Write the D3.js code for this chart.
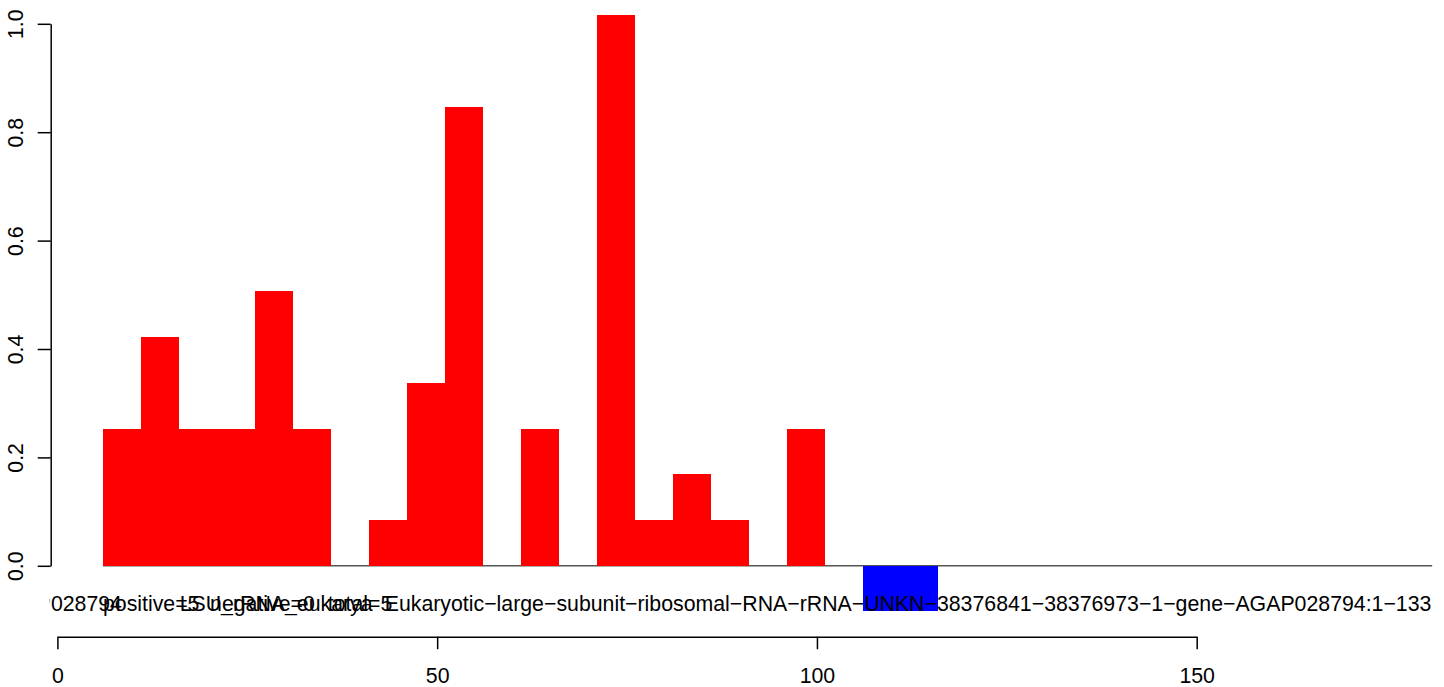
<!DOCTYPE html>
<html>
<head>
<meta charset="utf-8">
<script src="https://cdn.jsdelivr.net/npm/d3@7"></script>
<style>
  html, body { margin: 0; padding: 0; background: #fff; }
  svg text { font-family: "Liberation Sans", Arial, Helvetica, sans-serif; }
</style>
</head>
<body>
<svg id="chart" width="1444" height="687"></svg>
<script>
// ---- data ----
const barStart = [6, 11, 16, 21, 26, 31, 41, 46, 51, 61, 71, 76, 81, 86, 96, 106];
const barEnd   = [11, 16, 21, 26, 31, 36, 46, 51, 56, 66, 76, 81, 86, 91, 101, 116];
const barValue = [0.253, 0.4225, 0.253, 0.253, 0.507, 0.253, 0.084, 0.338, 0.847, 0.253, 1.017, 0.084, 0.169, 0.084, 0.253, -0.084];
const barColor = ["red","red","red","red","red","red","red","red","red","red","red","red","red","red","red","blue"];
const xTicks = [0, 50, 100, 150];
const yTicks = [0, 0.2, 0.4, 0.6, 0.8, 1.0];
const baseLine = [6, 181];
const M = "\u2212";
const labelText = ["positive=5", "LSU_rRNA_eukarya", "negative=0", "total=5",
  ["Eukaryotic","large","subunit","ribosomal","RNA","rRNA","UNKN","38376841","38376973","1","gene","AGAP028794:1","133"].join(M)];
const labelX = [6, 16.1, 20.1, 35.6, 112];
const labelAnchor = ["start", "start", "start", "start", "middle"];
const fragText = ["Eukaryotic","large","subunit","ribosomal","RNA","rRNA","UNKN","38376841","38376973","1","gene","AGAP028794"].join(M);
const fragX = 8.5;

// ---- layout ----
const FS = 21.3;
const svg = d3.select("#chart");
const x = d3.scaleLinear().domain([0, 150]).range([57.4, 1196.7]);
const y = d3.scaleLinear().domain([0, 1]).range([565.8, 23.8]);
const plotLeft = 50.7, plotRight = 1444;

svg.append("defs").append("clipPath").attr("id", "plotclip")
  .append("rect").attr("x", plotLeft - 1).attr("y", 0).attr("width", plotRight - plotLeft + 1).attr("height", 687);

const bars = barValue.map((v, i) => ({ s: barStart[i], e: barEnd[i], v: v, c: barColor[i] }));
const col = { red: "#ff0000", blue: "#0000ff" };

// baseline
svg.append("line")
  .attr("x1", x(baseLine[0])).attr("x2", x(baseLine[1]))
  .attr("y1", y(0)).attr("y2", y(0))
  .attr("stroke", "#555").attr("stroke-width", 1.5);

svg.append("g").selectAll("rect").data(bars).join("rect")
  .attr("x", d => x(d.s))
  .attr("width", d => x(d.e) - x(d.s))
  .attr("y", d => y(Math.max(0, d.v)))
  .attr("height", d => Math.abs(y(d.v) - y(0)))
  .attr("fill", d => col[d.c])
  .attr("shape-rendering", "crispEdges");

// labels
const lg = svg.append("g").attr("clip-path", "url(#plotclip)");
lg.append("text").attr("x", x(fragX)).attr("y", 610.5).attr("text-anchor", "end")
  .attr("font-size", FS).attr("fill", "#000").text(fragText);
lg.selectAll("text.lab").data(labelText).join("text").attr("class", "lab")
  .attr("x", (d, i) => x(labelX[i]))
  .attr("y", 610.5)
  .attr("text-anchor", (d, i) => labelAnchor[i])
  .attr("font-size", FS).attr("fill", "#000")
  .text(d => d);

// y axis
const yAxis = d3.axisLeft(y).tickValues(yTicks).tickFormat(d3.format(".1f"))
  .tickSize(13).tickSizeOuter(0);
const gy = svg.append("g").attr("transform", `translate(${plotLeft},0)`).call(yAxis);
gy.select(".domain").attr("stroke", "#000").attr("stroke-width", 1.5);
gy.selectAll(".tick line").attr("stroke", "#000").attr("stroke-width", 1.5);
gy.selectAll(".tick text")
  .attr("font-size", FS).attr("fill", "#000")
  .attr("x", 0).attr("dy", 0)
  .attr("text-anchor", "middle")
  .attr("transform", `translate(${23 - plotLeft},0) rotate(-90)`);

// x axis
const xAxis = d3.axisBottom(x).tickValues(xTicks).tickFormat(d3.format("d"))
  .tickSize(12.5).tickSizeOuter(0);
const gx = svg.append("g").attr("transform", "translate(0,636.7)").call(xAxis);
gx.select(".domain").attr("stroke", "#000").attr("stroke-width", 1.5);
gx.selectAll(".tick line").attr("stroke", "#000").attr("stroke-width", 1.5);
gx.selectAll(".tick text").attr("font-size", FS).attr("fill", "#000")
  .attr("y", 46.5).attr("dy", 0);
</script>
</body>
</html>
